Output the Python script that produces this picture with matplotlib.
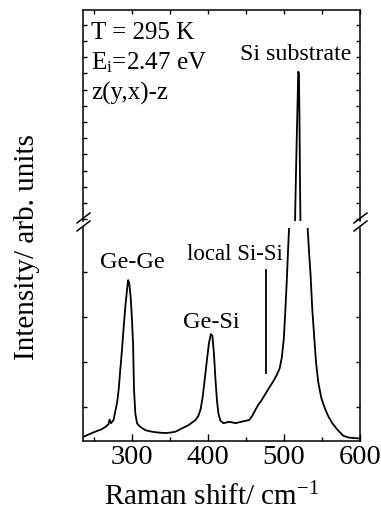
import matplotlib
matplotlib.use("Agg")
import matplotlib.pyplot as plt
from matplotlib.lines import Line2D
from matplotlib.ticker import MultipleLocator, FixedLocator

plt.rcParams['font.family'] = ['Liberation Serif', 'DejaVu Serif']
plt.rcParams['mathtext.fontset'] = 'custom'
plt.rcParams['mathtext.rm'] = 'Liberation Serif'
plt.rcParams['mathtext.it'] = 'Liberation Serif'

# spectrum (arb. units; values > 4 belong to the compressed upper part)
raman_shift = [236, 244, 251, 259, 265, 268.7, 270, 272, 275.3, 277.5, 280, 282,
               284, 286.4, 288.5, 290.8, 293, 294.5, 296, 298, 299.6, 301, 302.2,
               304, 306.2, 309, 312.8, 318, 326, 335, 343.6, 350, 356.8, 365,
               374.4, 380, 383.2, 387, 390, 392.5, 395, 398, 401, 403.5, 405.5,
               407.5, 409.6, 411.5, 413.5, 416, 420, 428, 436, 446, 454, 458,
               462, 466, 470, 475, 480, 485, 490, 494, 497, 499.5, 501.5, 503.5,
               505, 506.5, 507.5, 514.4, 515.5, 516.6, 517.8, 518.6, 519.5, 520.2,
               520.8, 521.5, 530.3, 531, 533, 535, 537, 539.5, 542, 545, 549, 553,
               558, 563, 570, 578, 585, 592, 599]
intensity = [-0.66, -0.6, -0.55, -0.5, -0.44, -0.38, -0.28, -0.36, -0.29, -0.1, 0.1, 0.38,
             0.8, 1.27, 1.75, 2.23, 2.6, 2.82, 2.75, 2.4, 1.93, 1.4, 0.4,
             -0.15, -0.36, -0.42, -0.47, -0.52, -0.55, -0.57, -0.58, -0.57, -0.55, -0.48,
             -0.4, -0.33, -0.29, -0.2, -0.05, 0.2, 0.55, 1.0, 1.42, 1.62, 1.58,
             1.2, 0.6, 0.15, -0.15, -0.3, -0.36, -0.33, -0.36, -0.32, -0.29, -0.2,
             -0.07, 0.05, 0.14, 0.28, 0.42, 0.55, 0.7, 0.85, 1.1, 1.5, 2.1, 2.8,
             3.4, 3.98, 5.0, 5.89, 8.5, 10.9, 13.3, 15.1, 15.0, 12.5,
             9.0, 5.89, 5.0, 3.98, 3.4, 2.9, 2.2, 1.6, 1.0, 0.55, 0.2, 0.0,
             -0.2, -0.35, -0.5, -0.64, -0.68, -0.69, -0.70]

local_si_x = [476, 476]
local_si_y = [0.76, 3.04]

fig = plt.figure(figsize=(3.81, 5.21), dpi=100)
ax_lo = fig.add_axes([0.2178, 0.1536, 0.7271, 0.4088])
ax_hi = fig.add_axes([0.2178, 0.5758, 0.7271, 0.405])

for ax in (ax_lo, ax_hi):
    ax.plot(raman_shift, intensity, color='black', lw=1.3)
    ax.set_xlim(235, 600)
    for s in ax.spines.values():
        s.set_linewidth(1.1)
    ax.xaxis.set_major_locator(MultipleLocator(100))
    ax.xaxis.set_minor_locator(MultipleLocator(50))

ax_lo.plot(local_si_x, local_si_y, color='black', lw=1.3)

ax_lo.set_ylim(-0.756, 3.978)
ax_hi.set_ylim(5.89, 18.91)

ax_lo.spines['top'].set_visible(False)
ax_hi.spines['bottom'].set_visible(False)

ax_lo.yaxis.set_major_locator(FixedLocator([0, 1, 2, 3]))
ax_lo.yaxis.set_minor_locator(FixedLocator([]))
ax_hi.yaxis.set_major_locator(MultipleLocator(1))

ax_lo.tick_params(axis='x', which='major', direction='in', length=5, width=1,
                  labelsize=20.5, pad=3, top=False)
ax_lo.tick_params(axis='x', which='minor', direction='in', length=3, width=1, top=False)
ax_lo.tick_params(axis='y', which='both', direction='in', length=3, width=1,
                  left=True, right=True, labelleft=False)

ax_hi.tick_params(axis='x', which='both', direction='in', length=3, width=1,
                  bottom=False, top=True, labelbottom=False)
ax_hi.tick_params(axis='y', which='both', direction='in', length=3, width=1,
                  left=True, right=True, labelleft=False)

# annotations
ax_hi.text(245.8, 17.12, 'T = 295 K', fontsize=18, va='baseline')
ax_hi.text(245.8, 15.27, r'E$_{\mathrm{i}}$=2.47 eV', fontsize=18, va='baseline')
ax_hi.text(245.8, 13.36, 'z(y,x)-z', fontsize=18, va='baseline')
ax_hi.text(441.5, 15.83, 'Si substrate', fontsize=17.3, va='baseline')
ax_lo.text(257.7, 3.09, 'Ge-Ge', fontsize=17.5, va='baseline')
ax_lo.text(372.0, 3.27, 'local Si-Si', fontsize=16.5, va='baseline')
ax_lo.text(367.4, 1.76, 'Ge-Si', fontsize=17.5, va='baseline')

fig.text(0.071, 0.526, 'Intensity/ arb. units', fontsize=21, rotation=90,
         ha='center', va='center')
fig.text(0.556, 0.0307, r'Raman shift/ cm$^{\mathrm{-1}}$', fontsize=21,
         ha='center', va='baseline')

# break marks on both side spines
W, H = 381.0, 521.0
for x0 in (77, 354):
    for dy in (0, 8):
        fig.add_artist(Line2D([x0 / W, (x0 + 13) / W],
                              [1 - (223 + dy) / H, 1 - (213 + dy) / H],
                              color='black', lw=1.1, transform=fig.transFigure))

fig.savefig('out.png', dpi=100)
